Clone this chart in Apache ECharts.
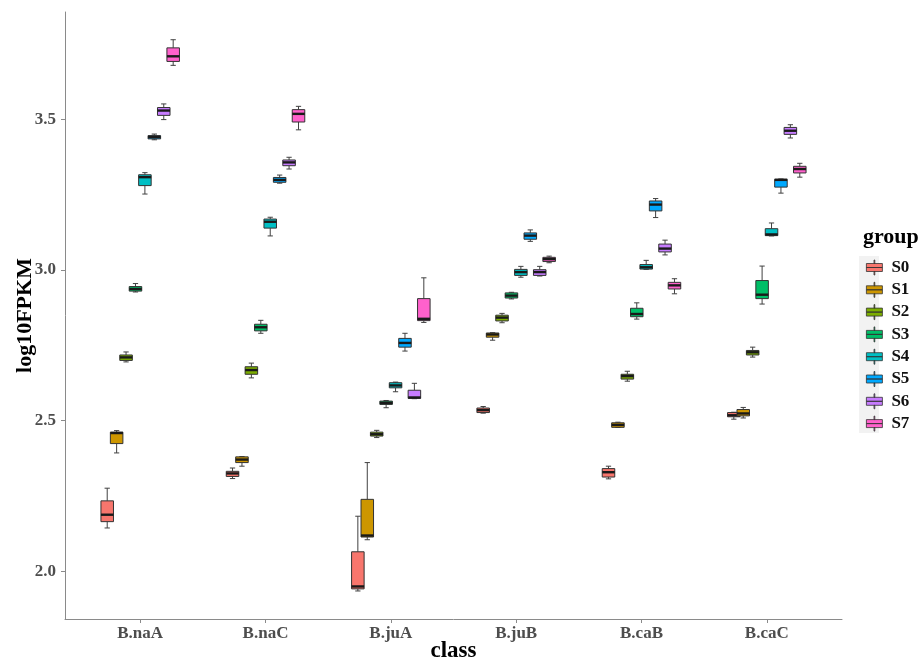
<!DOCTYPE html>
<html>
<head>
<meta charset="utf-8">
<title>log10FPKM by class</title>
<script src="https://cdn.jsdelivr.net/npm/echarts@6/dist/echarts.min.js"></script>
<style>
  html, body { margin: 0; padding: 0; background: #ffffff; }
  #chart { width: 920px; height: 662px; }
</style>
</head>
<body>
<div id="chart"></div>
<script>
// Classes on the x axis
const categories = ['B.naA', 'B.naC', 'B.juA', 'B.juB', 'B.caB', 'B.caC'];
// Groups (one box per group in each class)
const groups = ['S0', 'S1', 'S2', 'S3', 'S4', 'S5', 'S6', 'S7'];
const groupColors = ['#F8766D', '#CD9600', '#7CAE00', '#00BE67', '#00BFC4', '#00A9FF', '#C77CFF', '#FF61CC'];

// Box statistics per class: [lower whisker, Q1, median, Q3, upper whisker]
const s0 = [[2.144, 2.165, 2.188, 2.234, 2.276], [2.308, 2.315, 2.325, 2.332, 2.343], [1.935, 1.942, 1.950, 2.065, 2.183],
            [2.525, 2.527, 2.535, 2.542, 2.547], [2.307, 2.313, 2.329, 2.341, 2.349], [2.505, 2.513, 2.518, 2.527, 2.528]];
const s1 = [[2.393, 2.424, 2.459, 2.462, 2.467], [2.349, 2.361, 2.371, 2.380, 2.381], [2.105, 2.114, 2.119, 2.239, 2.361],
            [2.767, 2.777, 2.786, 2.791, 2.792], [2.478, 2.478, 2.486, 2.493, 2.495], [2.509, 2.516, 2.524, 2.537, 2.544]];
const s2 = [[2.695, 2.700, 2.710, 2.718, 2.728], [2.642, 2.654, 2.668, 2.679, 2.691], [2.444, 2.449, 2.455, 2.462, 2.468],
            [2.825, 2.831, 2.842, 2.850, 2.856], [2.631, 2.638, 2.648, 2.654, 2.664], [2.711, 2.718, 2.727, 2.733, 2.744]];
const s3 = [[2.927, 2.930, 2.937, 2.945, 2.955], [2.790, 2.798, 2.810, 2.820, 2.833], [2.543, 2.554, 2.559, 2.565, 2.567],
            [2.904, 2.907, 2.915, 2.924, 2.926], [2.837, 2.845, 2.854, 2.873, 2.891], [2.887, 2.905, 2.918, 2.965, 3.013]];
const s4 = [[3.252, 3.280, 3.308, 3.316, 3.323], [3.113, 3.139, 3.160, 3.169, 3.175], [2.596, 2.609, 2.617, 2.626, 2.628],
            [2.976, 2.982, 2.993, 3.002, 3.012], [3.002, 3.003, 3.009, 3.018, 3.032], [3.113, 3.114, 3.118, 3.137, 3.156]];
const s5 = [[3.432, 3.435, 3.441, 3.446, 3.451], [3.288, 3.291, 3.299, 3.307, 3.315], [2.731, 2.744, 2.758, 2.773, 2.790],
            [3.095, 3.102, 3.114, 3.123, 3.133], [3.174, 3.196, 3.217, 3.229, 3.237], [3.255, 3.275, 3.299, 3.301, 3.302]];
const s6 = [[3.499, 3.513, 3.529, 3.539, 3.551], [3.335, 3.346, 3.357, 3.365, 3.374], [2.573, 2.574, 2.577, 2.601, 2.624],
            [2.980, 2.982, 2.993, 3.001, 3.012], [3.050, 3.060, 3.071, 3.086, 3.099], [3.438, 3.450, 3.462, 3.473, 3.482]];
const s7 = [[3.679, 3.692, 3.709, 3.737, 3.764], [3.465, 3.491, 3.518, 3.532, 3.543], [2.826, 2.832, 2.838, 2.905, 2.974],
            [3.024, 3.028, 3.036, 3.042, 3.046], [2.921, 2.937, 2.949, 2.959, 2.971], [3.308, 3.322, 3.335, 3.344, 3.354]];
const groupStats = [s0, s1, s2, s3, s4, s5, s6, s7];

// Y axis tick labels
const yTicks = [2.0, 2.5, 3.0, 3.5];

const FONT = "'Liberation Serif', 'Times New Roman', serif";
const chart = echarts.init(document.getElementById('chart'), null, { renderer: 'canvas' });

// Each box sits at its own dodge slot within the class band
function renderBox(params, api) {
  const gi = params.seriesIndex;
  const ci = api.value(0);
  const lo = api.value(1), q1 = api.value(2), md = api.value(3), q3 = api.value(4), hi = api.value(5);
  const band = api.size([1, 0])[0];
  const cx = api.coord([ci, md])[0] + (gi - 3.5) * band * 0.0752;
  const y = v => api.coord([ci, v])[1];
  const w = band * 0.1;
  const cap = band * 0.042;
  const wStyle = { stroke: '#404040', lineWidth: 1 };
  return {
    type: 'group',
    children: [
      { type: 'line', shape: { x1: cx, y1: y(hi), x2: cx, y2: y(q3) }, style: wStyle },
      { type: 'line', shape: { x1: cx, y1: y(q1), x2: cx, y2: y(lo) }, style: wStyle },
      { type: 'line', shape: { x1: cx - cap / 2, y1: y(hi), x2: cx + cap / 2, y2: y(hi) }, style: wStyle },
      { type: 'line', shape: { x1: cx - cap / 2, y1: y(lo), x2: cx + cap / 2, y2: y(lo) }, style: wStyle },
      {
        type: 'rect',
        shape: { x: cx - w / 2, y: y(q3), width: w, height: Math.max(y(q1) - y(q3), 0.5) },
        style: { fill: api.visual('color'), stroke: '#333333', lineWidth: 1 }
      },
      {
        type: 'line',
        shape: { x1: cx - w / 2, y1: y(md), x2: cx + w / 2, y2: y(md) },
        style: { stroke: '#1a1a1a', lineWidth: 2.4 }
      }
    ]
  };
}

const series = groups.map((g, gi) => ({
  name: g,
  type: 'custom',
  renderItem: renderBox,
  itemStyle: { color: groupColors[gi] },
  encode: { x: 0, y: [1, 2, 3, 4, 5] },
  data: categories.map((c, ci) => [ci + 1].concat(groupStats[gi][ci])),
  animation: false
}));

const legendIcon = 'path://M0,3.5 L16,3.5 L16,7.5 L0,7.5 Z M0,7.5 L16,7.5 L16,11.5 L0,11.5 Z M7.6,0 L8.4,0 L8.4,3.5 L7.6,3.5 Z M7.6,11.5 L8.4,11.5 L8.4,15 L7.6,15 Z';

const option = {
  backgroundColor: '#ffffff',
  animation: false,
  color: groupColors,
  title: {
    text: 'group',
    left: 858,
    top: 221,
    textStyle: { fontFamily: FONT, fontWeight: 'bold', fontSize: 22, color: '#000000' }
  },
  // light key background column behind the legend glyphs
  graphic: [{
    type: 'rect',
    z: 0,
    silent: true,
    shape: { x: 859, y: 256, width: 20, height: 177 },
    style: { fill: '#f2f2f2' }
  }],
  legend: {
    orient: 'vertical',
    left: 861,
    top: 254,
    z: 5,
    itemWidth: 16,
    itemHeight: 15,
    itemGap: 5.3,
    icon: legendIcon,
    itemStyle: { borderColor: '#333333', borderWidth: 0.8 },
    textStyle: { fontFamily: FONT, fontWeight: 'bold', fontSize: 17, color: '#111111', padding: [0, 0, 0, 4] },
    data: groups.map((g, gi) => ({ name: g, itemStyle: { color: groupColors[gi] } }))
  },
  grid: { left: 65, right: 78, top: 12, bottom: 43, containLabel: false, outerBoundsMode: 'none' },
  xAxis: {
    type: 'value',
    min: 0.4,
    max: 6.6,
    name: 'class',
    nameLocation: 'middle',
    nameGap: 21,
    nameMoveOverlap: false,
    nameTextStyle: { fontFamily: FONT, fontWeight: 'bold', fontSize: 23, color: '#000000' },
    splitLine: { show: false },
    axisLine: { show: true, onZero: false, lineStyle: { color: '#8a8a8a', width: 1 } },
    axisTick: { show: true, length: 4, customValues: [1, 2, 3, 4, 5, 6], lineStyle: { color: '#8a8a8a' } },
    axisLabel: {
      customValues: [1, 2, 3, 4, 5, 6],
      formatter: v => categories[Math.round(v) - 1] || '',
      margin: 6,
      fontFamily: FONT, fontWeight: 'bold', fontSize: 17, color: '#4d4d4d'
    }
  },
  yAxis: {
    type: 'value',
    min: 1.842,
    max: 3.856,
    name: 'log10FPKM',
    nameLocation: 'middle',
    nameGap: 29,
    nameMoveOverlap: false,
    nameTextStyle: { fontFamily: FONT, fontWeight: 'bold', fontSize: 22, color: '#000000' },
    splitLine: { show: false },
    axisLine: { show: true, onZero: false, lineStyle: { color: '#8a8a8a', width: 1 } },
    axisTick: { show: true, length: 4, customValues: yTicks, lineStyle: { color: '#8a8a8a' } },
    axisLabel: {
      customValues: yTicks,
      formatter: v => v.toFixed(1),
      margin: 9,
      fontFamily: FONT, fontWeight: 'bold', fontSize: 17, color: '#4d4d4d'
    }
  },
  series: series
};

chart.setOption(option);
</script>
</body>
</html>
